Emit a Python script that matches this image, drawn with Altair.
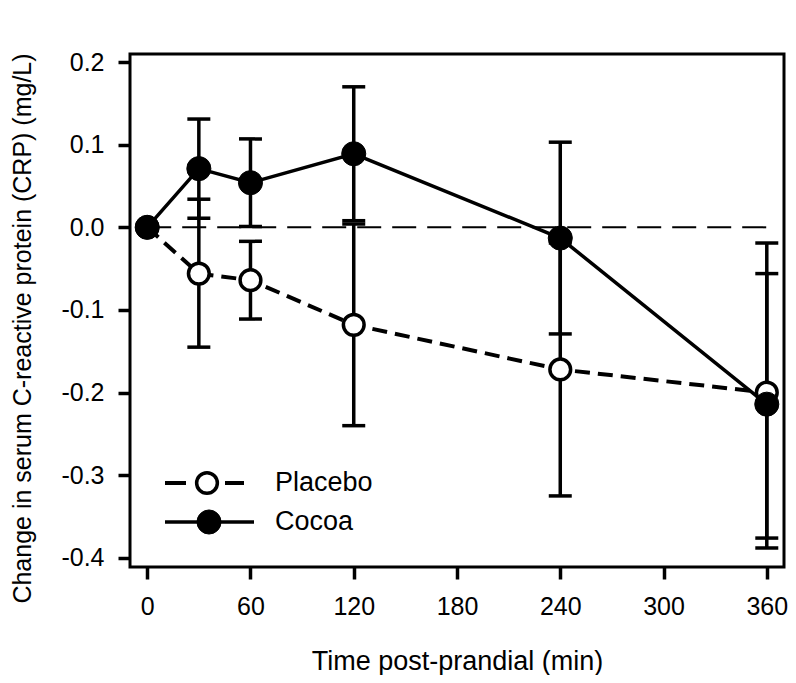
import altair as alt
import pandas as pd

# ---- data ----
times = [0, 30, 60, 120, 240, 360]
series = ["Placebo", "Cocoa"]

placebo_mean = [0.0, -0.056, -0.064, -0.118, -0.172, -0.200]
placebo_lower = [0.0, -0.145, -0.111, -0.240, -0.325, -0.388]
placebo_upper = [0.0, 0.034, -0.017, 0.004, -0.019, -0.019]

cocoa_mean = [0.0, 0.071, 0.054, 0.089, -0.013, -0.214]
cocoa_lower = [0.0, 0.011, 0.001, 0.008, -0.129, -0.376]
cocoa_upper = [0.0, 0.131, 0.107, 0.170, 0.103, -0.056]

x_ticks = [0, 60, 120, 180, 240, 300, 360]
y_ticks = [-0.4, -0.3, -0.2, -0.1, 0.0, 0.1, 0.2]

rows = []
for name, m, lo, hi in [
    ("Placebo", placebo_mean, placebo_lower, placebo_upper),
    ("Cocoa", cocoa_mean, cocoa_lower, cocoa_upper),
]:
    for t, a, b, c in zip(times, m, lo, hi):
        rows.append({"time": t, "group": name, "mean": a, "lower": b, "upper": c})
df = pd.DataFrame(rows)
err = df[df["time"] > 0]

FONT = "Liberation Sans"
W, H = 654, 513

xs = alt.Scale(domain=[-10, 370], nice=False, zero=False)
ys = alt.Scale(domain=[-0.411, 0.2097], nice=False, zero=False)

x_axis = alt.Axis(
    values=x_ticks, title="Time post-prandial (min)", grid=False, domain=False,
    tickSize=12, tickWidth=3.5, tickColor="black",
    labelFont=FONT, labelFontSize=25, labelColor="black", labelPadding=15,
    titleFont=FONT, titleFontSize=27, titleFontWeight="normal", titleColor="black",
    titleX=W / 2, titleY=94, titleBaseline="middle", titleAlign="center",
)
y_axis = alt.Axis(
    values=y_ticks, title="Change in serum C-reactive protein (CRP) (mg/L)",
    grid=False, domain=False,
    tickSize=12, tickWidth=3.5, tickColor="black",
    labelFont=FONT, labelFontSize=25, labelColor="black", labelPadding=14,
    labelExpr="datum.value < -0.00001 ? '-' + format(-datum.value, '.1f') : format(abs(datum.value), '.1f')",
    titleFont=FONT, titleFontSize=25, titleFontWeight="normal", titleColor="black",
    titleX=-108, titleY=274, titleAngle=-90, titleBaseline="middle", titleAlign="center",
)

X = alt.X("time:Q", scale=xs, axis=x_axis)
Y = alt.Y("mean:Q", scale=ys, axis=y_axis)

base = alt.Chart(df)

zero_line = alt.Chart(pd.DataFrame({"x": [0], "x2": [360], "y": [0.0]})).mark_rule(
    color="black", strokeWidth=2, strokeDash=[24, 11]
).encode(
    x=alt.X("x:Q", scale=xs, axis=x_axis),
    x2="x2:Q",
    y=alt.Y("y:Q", scale=ys, axis=y_axis),
)

err_rule = alt.Chart(err).mark_rule(color="black", strokeWidth=3.5).encode(
    x=alt.X("time:Q", scale=xs), y=alt.Y("lower:Q", scale=ys), y2="upper:Q"
)
cap_lo = alt.Chart(err).mark_tick(color="black", orient="horizontal", size=23, thickness=3.5, opacity=1).encode(
    x=alt.X("time:Q", scale=xs), y=alt.Y("lower:Q", scale=ys)
)
cap_hi = alt.Chart(err).mark_tick(color="black", orient="horizontal", size=23, thickness=3.5, opacity=1).encode(
    x=alt.X("time:Q", scale=xs), y=alt.Y("upper:Q", scale=ys)
)

placebo_line = base.transform_filter(alt.datum.group == "Placebo").mark_line(
    color="black", strokeWidth=4, strokeDash=[15, 8]
).encode(x=X, y=Y)
cocoa_line = base.transform_filter(alt.datum.group == "Cocoa").mark_line(
    color="black", strokeWidth=3.5
).encode(x=X, y=Y)

placebo_pts = base.transform_filter(alt.datum.group == "Placebo").mark_point(
    shape="circle", filled=True, fill="white", stroke="black", strokeWidth=3.5, size=430, opacity=1
).encode(x=X, y=Y)
cocoa_pts = base.transform_filter(alt.datum.group == "Cocoa").mark_point(
    shape="circle", filled=True, fill="black", stroke="black", strokeWidth=1, size=580, opacity=1
).encode(x=X, y=Y)

# ---- legend (drawn in pixel space) ----
one = alt.Data(values=[{"a": 1}])
leg_py, leg_cy = 429, 468
leg_layers = [
    alt.Chart(one).mark_rule(color="black", strokeWidth=4).encode(
        x=alt.value(35), x2=alt.value(56), y=alt.value(leg_py)),
    alt.Chart(one).mark_rule(color="black", strokeWidth=4).encode(
        x=alt.value(95), x2=alt.value(114), y=alt.value(leg_py)),
    alt.Chart(one).mark_point(shape="circle", filled=True, fill="white", stroke="black",
                              strokeWidth=3.5, size=430, opacity=1).encode(
        x=alt.value(77), y=alt.value(leg_py)),
    alt.Chart(one).mark_text(align="left", baseline="middle", font=FONT, fontSize=27, color="black").encode(
        x=alt.value(145), y=alt.value(leg_py), text=alt.value(series[0])),
    alt.Chart(one).mark_rule(color="black", strokeWidth=3.5).encode(
        x=alt.value(35), x2=alt.value(124), y=alt.value(leg_cy)),
    alt.Chart(one).mark_point(shape="circle", filled=True, fill="black", stroke="black",
                              strokeWidth=1, size=580, opacity=1).encode(
        x=alt.value(79), y=alt.value(leg_cy)),
    alt.Chart(one).mark_text(align="left", baseline="middle", font=FONT, fontSize=27, color="black").encode(
        x=alt.value(145), y=alt.value(leg_cy), text=alt.value(series[1])),
]

chart = alt.layer(
    zero_line, err_rule, cap_lo, cap_hi, placebo_line, cocoa_line, placebo_pts, cocoa_pts, *leg_layers
).properties(
    width=W, height=H,
    autosize=alt.AutoSizeParams(type="none"),
    padding={"left": 122, "top": 46, "right": 4, "bottom": 108},
    background="white",
).configure_view(
    stroke="black", strokeWidth=3
)

chart.save("out.html", embed_options={"renderer": "svg", "actions": False})
